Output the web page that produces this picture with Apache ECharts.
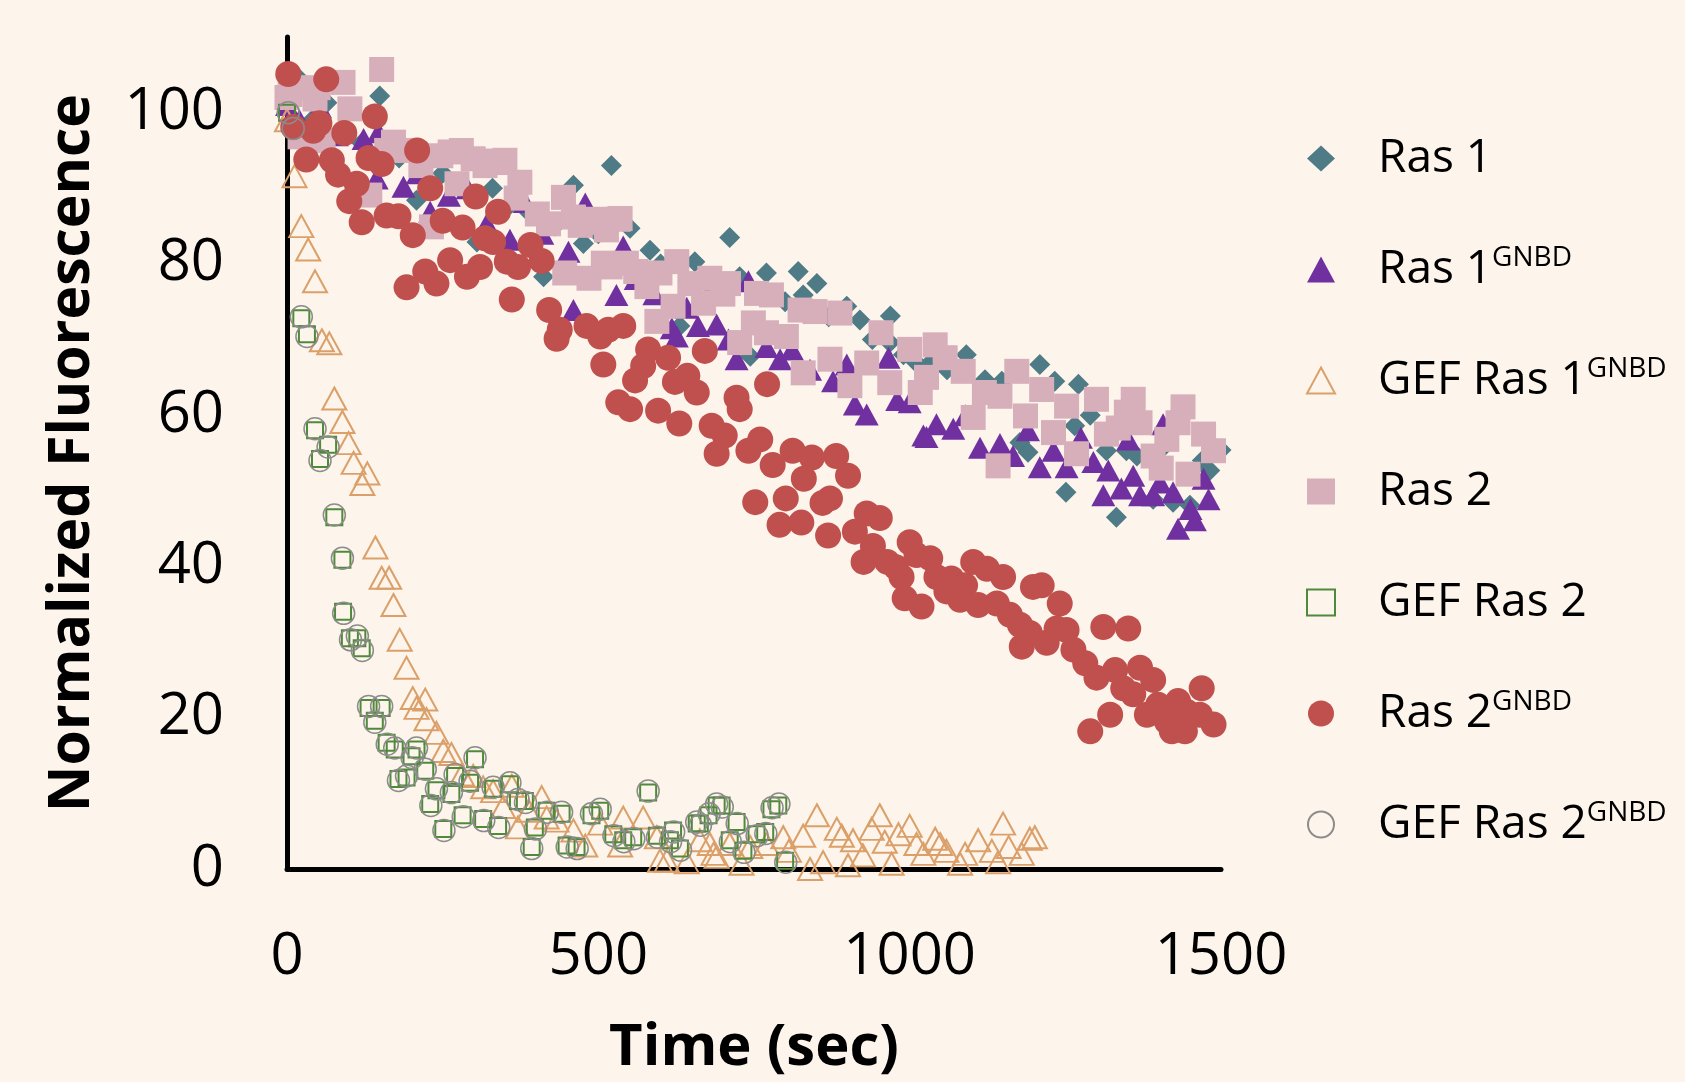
<!DOCTYPE html>
<html>
    <head>
        <meta charset='utf-8'>
        <script src="https://cdn.jsdelivr.net/npm/echarts/dist/echarts.min.js"></script>
    </head>
    <body style="margin:0;background:#fdf5eb;">
        <style>
            html, body, #main {
                width: 1685px;
                height: 1082px;
                margin: 0;
            }
        </style>
        <div id="main"></div>
        <script>

            // [time (sec), normalized fluorescence]
            var ras1 = [[0,101],[18,104.6],[40,99],[64,101.3],[90,98],[120,96],[149,102.2],[180,94],[208,88.4],[224,94.8],[250,92],[291,94.5],[305,82.9],[330,90],[360,88],[390,86.7],[412,78.3],[430,85],[460,90.4],[476,82.7],[500,84],[521,93],[551,84.7],[583,81.8],[600,80],[631,71.8],[655,80.3],[680,77],[711,83.5],[727,78.3],[744,67.8],[770,78.8],[800,75],[821,79],[829,75.9],[851,77.4],[870,73],[899,74.4],[920,72.6],[940,70],[969,73.1],[968,69.6],[990,68],[1010,67],[1033,66.9],[1060,66],[1091,68],[1121,64.7],[1148,64.5],[1177,56.4],[1190,55.1],[1209,66.7],[1233,64.5],[1251,49.8],[1265,58.6],[1271,64.1],[1290,60],[1316,55.3],[1332,46.5],[1348,55.3],[1365,54.6],[1391,48.9],[1410,56],[1423,48.5],[1450,48.1],[1470,54],[1482,52.7],[1500,55.4]];

            var ras1Gnbd = [[0,101],[20,99],[53,100.7],[80,97],[123,96.5],[147,97.4],[144,91.3],[187,90.2],[210,92],[230,86.9],[260,89],[290,90],[321,85.3],[358,83.2],[382,88.2],[410,84],[452,81.6],[460,73.9],[479,88],[500,80],[529,75.9],[540,82.3],[560,78],[590,76],[618,71.5],[626,70.4],[642,74.2],[660,71.8],[690,72],[709,70],[722,67.4],[741,77.7],[770,69],[792,67.4],[811,68.7],[840,66],[877,64.5],[899,66.7],[912,61.4],[931,60.1],[966,67.6],[980,62],[1000,61.7],[1022,57.3],[1027,57.1],[1043,58.8],[1070,58.2],[1090,60],[1113,55.7],[1145,56.2],[1166,54.6],[1190,58],[1209,53.1],[1231,55.3],[1252,53.1],[1275,57],[1295,53.8],[1311,49.4],[1319,52.7],[1340,50.3],[1351,56.8],[1359,52],[1370,49.4],[1391,49.4],[1402,51.1],[1407,58.8],[1423,49.8],[1431,45],[1451,47.6],[1458,46.1],[1472,51.6],[1480,48.9]];

            var gefRas1Gnbd = [[0,99],[12,91.6],[23,85],[34,81.9],[45,77.7],[56,69.9],[68,69.5],[76,62.2],[89,59.1],[99,56.3],[107,53.7],[121,50.9],[129,52.3],[142,42.5],[152,38.5],[164,38.5],[171,34.9],[181,30.3],[192,26.6],[202,22.6],[208,21.3],[222,22.4],[224,19.8],[240,18],[251,15.6],[264,15.2],[281,12.5],[299,12.3],[315,10.8],[331,10.3],[347,8.2],[361,11],[371,5.5],[388,7.7],[409,9.5],[417,6.8],[433,6.4],[460,5.1],[479,3.1],[503,6],[535,3.1],[540,6.8],[572,6.8],[594,4.2],[599,1.1],[610,1.1],[642,0.9],[663,3.8],[679,3.3],[685,2],[690,1.6],[711,3.3],[730,0.7],[744,2.9],[770,3.3],[797,4.2],[806,2.4],[829,4.4],[840,0],[851,7.1],[861,0.9],[883,5.3],[891,4.4],[901,0.5],[909,3.8],[925,1.8],[939,5.3],[952,7.1],[960,3.6],[971,0.7],[982,4.6],[1000,5.7],[1011,3.3],[1022,2],[1041,4],[1049,3.3],[1059,2.4],[1081,0.7],[1089,2],[1110,3.8],[1132,2.4],[1142,0.9],[1150,6],[1159,2.9],[1180,2],[1193,4],[1201,4.2]];

            var ras2 = [[0,102],[5,102.4],[12,103.3],[21,96.8],[45,101.8],[50,103.3],[58,96.3],[90,104],[101,100.5],[133,89.1],[152,105.7],[160,95],[171,96.1],[192,95],[215,93],[232,84.9],[247,94.3],[262,94.8],[273,90.6],[280,95],[299,93.9],[318,93],[325,93.6],[347,93.4],[350,93.7],[368,88.7],[374,90.8],[402,86.6],[420,85.3],[444,88.8],[446,78.8],[460,86.2],[471,85.1],[485,78.1],[497,85.9],[500,85.5],[508,80.1],[513,84.5],[519,79.6],[532,85.9],[535,86],[545,80.1],[560,79],[578,77],[594,72.4],[599,78.8],[620,74.4],[626,80.3],[647,77.4],[669,74.8],[679,78.1],[700,76],[709,77.4],[727,69.6],[749,72.2],[754,76.1],[770,70.9],[778,75.9],[802,70.4],[824,73.9],[829,65.6],[848,73.7],[872,67.4],[888,73.5],[904,63.9],[931,66.9],[954,70.9],[968,64.3],[1000,68.7],[1017,63],[1027,65],[1041,69.3],[1057,67.6],[1086,65.8],[1102,59.7],[1120,63],[1142,53.3],[1145,62.5],[1172,65.8],[1186,59.9],[1212,63.4],[1231,57.7],[1252,61.2],[1268,54.9],[1300,62.1],[1316,57.5],[1335,58.3],[1348,60.4],[1359,62.1],[1370,59],[1391,54.6],[1404,53],[1413,56.8],[1431,59],[1439,61.1],[1447,52.2],[1472,57.5],[1488,55.3],[1501,50]];

            var gefRas2 = [[0,100],[23,72.8],[32,70.7],[45,58],[53,54.2],[66,56.1],[76,46.5],[89,40.9],[90,34],[101,30.5],[113,30.5],[120,29.2],[131,21.3],[141,19.6],[152,21.3],[160,16.7],[173,15.8],[179,11.9],[192,12.1],[200,14.9],[208,15.8],[222,13],[230,8.6],[240,10.4],[251,5.3],[264,9.9],[270,12.3],[282,7.1],[294,11.4],[302,14.5],[315,6.6],[331,10.6],[339,5.7],[358,11.2],[371,9],[382,9],[393,2.9],[398,5.5],[417,7.7],[441,7.3],[449,3.1],[465,2.9],[489,7.1],[503,7.7],[524,4.6],[540,3.8],[556,4.2],[580,10.1],[594,4.4],[615,3.8],[620,5.1],[631,2.7],[658,6],[663,6],[677,7.1],[690,8.4],[698,8.4],[711,3.8],[722,6.2],[733,2.4],[754,4.6],[768,4.9],[778,7.9],[789,8.4],[800,1.1]];

            var ras2Gnbd = [[2,105.1],[63,104.4],[10,98.1],[42,97.6],[52,98.6],[92,97.3],[141,99.5],[31,93.8],[72,93.7],[82,91.8],[131,94],[152,93.2],[112,90.6],[100,88.3],[120,85.5],[160,86.4],[179,86.3],[202,83.8],[209,95],[230,90],[250,85.7],[282,84.8],[303,88.9],[339,86.9],[318,83.4],[331,82.9],[262,80.5],[222,79],[240,77.4],[192,76.9],[289,78.3],[310,79.6],[353,80.3],[371,79.6],[391,82.5],[409,80.4],[361,75.3],[421,73.9],[438,71.3],[433,70.1],[481,71.8],[503,70.4],[516,71.3],[540,71.8],[508,66.7],[580,68.7],[612,67.6],[572,66.5],[559,64.6],[671,68.5],[623,64.4],[643,65.2],[658,63],[532,61.7],[551,60.8],[596,60.6],[630,58.9],[722,62.3],[727,60.8],[682,58.6],[703,57.3],[690,54.9],[760,56.8],[741,55.3],[771,64.1],[780,53.4],[812,55.3],[843,54.4],[882,54.6],[830,51.6],[901,52],[752,48.5],[801,49],[872,49],[791,45.5],[826,45.8],[860,48.4],[869,44.1],[912,44.6],[931,47],[952,46.4],[941,42.7],[926,40.6],[964,40.6],[978,39.9],[1000,43.2],[1011,41.5],[1033,41.1],[987,38.6],[992,35.8],[1019,34.7],[1043,38.6],[1067,38.4],[1089,37.5],[1059,36.7],[1081,35.6],[1102,40.6],[1124,39.7],[1150,38.6],[1110,34.9],[1140,35.1],[1161,33.6],[1177,32.3],[1180,29.4],[1198,37.3],[1212,37.5],[1241,35.1],[1193,31.2],[1220,29.9],[1236,31.8],[1252,31.6],[1263,29],[1282,27.2],[1300,25.3],[1311,32],[1351,31.8],[1330,26.3],[1343,23.9],[1359,23.1],[1370,26.6],[1391,25],[1322,20.4],[1290,18.2],[1381,20.4],[1399,21.7],[1413,19.5],[1431,22.2],[1445,20.8],[1421,18.2],[1442,18.2],[1469,23.9],[1501,24.4],[1466,20.4],[1488,19.1]];

            var gefRas2Gnbd = [[2,100],[10,97.9],[23,73],[32,70.4],[45,58.2],[53,54],[66,55.8],[76,46.8],[89,41.1],[91,33.8],[102,30.3],[113,30.8],[121,28.9],[131,21.5],[141,19.4],[152,21.5],[161,16.5],[173,16],[179,11.7],[192,12.3],[201,14.7],[208,16],[222,13.2],[231,8.4],[240,10.6],[252,5.1],[264,10.1],[270,12.5],[283,6.9],[294,11.6],[302,14.7],[316,6.4],[331,10.8],[340,5.5],[358,11.4],[371,9.2],[383,8.8],[393,2.7],[399,5.3],[418,7.5],[441,7.5],[450,2.9],[466,2.7],[489,7.3],[503,7.9],[525,4.4],[541,3.6],[557,4],[580,10.3],[595,4.2],[616,3.6],[621,4.9],[632,2.5],[658,6.2],[664,5.8],[678,7.3],[690,8.6],[699,8.2],[712,3.6],[723,6],[734,2.2],[755,4.4],[769,4.7],[779,8.1],[790,8.6],[801,0.9]];

            var seriesNames = ['Ras 1', 'Ras 1 GNBD', 'GEF Ras 1 GNBD', 'Ras 2', 'GEF Ras 2', 'Ras 2 GNBD', 'GEF Ras 2 GNBD'];
            var legendBase = ['Ras 1', 'Ras 1', 'GEF Ras 1', 'Ras 2', 'GEF Ras 2', 'Ras 2', 'GEF Ras 2'];
            var legendSup = ['', 'GNBD', 'GNBD', '', '', 'GNBD', 'GNBD'];

            var FONT = 'Open Sans';
            var BG = '#fdf5eb';

            var chart = echarts.init(document.getElementById('main'));

            function filled(name, data, symbol, size, color) {
                return {
                    name: name,
                    type: 'scatter',
                    data: data,
                    symbol: symbol,
                    symbolSize: size,
                    itemStyle: { color: color, opacity: 1 }
                };
            }

            function hollow(name, data, symbol, size, color, width) {
                return {
                    name: name,
                    type: 'scatter',
                    data: data,
                    symbol: symbol,
                    symbolSize: size,
                    itemStyle: {
                        color: 'rgba(0,0,0,0)',
                        borderColor: color,
                        borderWidth: width,
                        opacity: 1
                    }
                };
            }

            chart.setOption({
                animation: false,
                backgroundColor: BG,
                textStyle: { fontFamily: FONT, color: '#000' },
                grid: {
                    left: 287,
                    right: 464,
                    top: 37,
                    bottom: 210
                },
                legend: {
                    orient: 'vertical',
                    left: 1306,
                    top: 133,
                    padding: 0,
                    itemWidth: 28,
                    itemHeight: 26,
                    itemGap: 60,
                    data: seriesNames,
                    formatter: function (name) {
                        var i = seriesNames.indexOf(name);
                        return '{a|' + legendBase[i] + '}' + (legendSup[i] ? '{s|' + legendSup[i] + '}' : '');
                    },
                    textStyle: {
                        fontFamily: FONT,
                        fontSize: 46,
                        lineHeight: 51,
                        color: '#000',
                        padding: [0, 0, 0, 38],
                        rich: {
                            a: { fontFamily: FONT, fontSize: 46, lineHeight: 51, color: '#000' },
                            s: { fontFamily: FONT, fontSize: 28, color: '#000', verticalAlign: 'top' }
                        }
                    }
                },
                xAxis: {
                    type: 'value',
                    min: 0,
                    max: 1500,
                    interval: 500,
                    name: 'Time (sec)',
                    nameLocation: 'middle',
                    nameGap: 150,
                    nameTextStyle: { fontFamily: FONT, fontSize: 58, fontWeight: 'bold', color: '#000' },
                    axisLine: { lineStyle: { color: '#000', width: 5 } },
                    axisTick: { show: false },
                    splitLine: { show: false },
                    axisLabel: {
                        fontFamily: FONT,
                        fontSize: 58,
                        color: '#000',
                        margin: 59,
                        formatter: function (v) {
                            return String(v);
                        }
                    }
                },
                yAxis: {
                    type: 'value',
                    min: 0,
                    max: 110,
                    interval: 20,
                    name: 'Normalized Fluorescence',
                    nameLocation: 'middle',
                    nameGap: 186,
                    nameTextStyle: { fontFamily: FONT, fontSize: 57, fontWeight: 'bold', color: '#000' },
                    axisLine: { show: true, lineStyle: { color: '#000', width: 5 } },
                    axisTick: { show: false },
                    splitLine: { show: false },
                    axisLabel: {
                        fontFamily: FONT,
                        fontSize: 58,
                        color: '#000',
                        margin: 63,
                        formatter: function (v) {
                            return v % 20 === 0 ? String(v) : '';
                        }
                    }
                },
                series: [
                    filled(seriesNames[0], ras1, 'diamond', 21, '#4e7b86'),
                    filled(seriesNames[1], ras1Gnbd, 'triangle', [24, 22], '#7030a0'),
                    hollow(seriesNames[2], gefRas1Gnbd, 'triangle', [24, 22], '#dba06a', 2),
                    filled(seriesNames[3], ras2, 'rect', 25, '#d7afbb'),
                    hollow(seriesNames[4], gefRas2, 'rect', 16, '#4f8a3a', 2),
                    filled(seriesNames[5], ras2Gnbd, 'circle', 26, '#c0504d'),
                    hollow(seriesNames[6], gefRas2Gnbd, 'circle', 22, '#8c8c8c', 1.5)
                ]
            });
        </script>
    </body>
</html>
